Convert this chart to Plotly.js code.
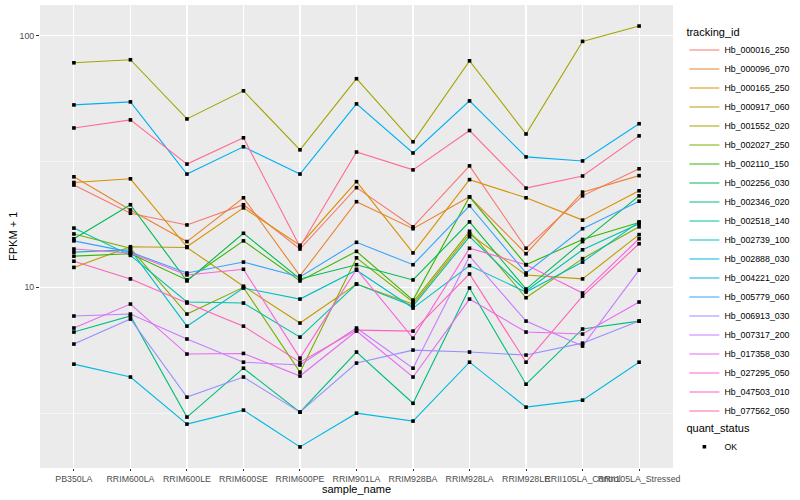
<!DOCTYPE html>
<html>
<head>
<meta charset="utf-8">
<script src="https://cdn.plot.ly/plotly-3.0.1.min.js"></script>
<style>html,body{margin:0;padding:0;background:#fff;}#chart{width:800px;height:500px;}</style>
</head>
<body>
<div id="chart"></div>
<script>
const categories = ['PB350LA','RRIM600LA','RRIM600LE','RRIM600SE','RRIM600PE','RRIM901LA','RRIM928BA','RRIM928LA','RRIM928LE','RRII105LA_Control','RRII105LA_Stressed'];

const hb_000016_250 = [25.5, 19.7, 17.7, 21.3, 14.2, 24.9, 17.4, 30.4, 14.3, 23.1, 29.6];
const hb_000096_070 = [27.5, 20.3, 15.2, 22.7, 11.1, 21.9, 17.1, 22.9, 13.6, 23.9, 27.8];
const hb_000165_250 = [26.1, 27.0, 14.5, 20.7, 14.7, 26.3, 13.7, 26.8, 22.7, 18.5, 24.2];
const hb_000917_060 = [12.0, 14.5, 14.4, 10.1, 7.21, 10.3, 8.58, 16.3, 11.2, 10.8, 16.2];
const hb_001552_020 = [78.1, 80.3, 46.7, 60.4, 35.2, 67.5, 37.9, 79.5, 40.7, 95.0, 109.3];
const hb_002027_250 = [16.3, 14.3, 7.83, 10.0, 4.60, 13.1, 8.74, 16.7, 9.09, 13.0, 17.4];
const hb_002110_150 = [13.3, 13.6, 10.7, 15.3, 10.6, 13.9, 8.90, 22.9, 12.3, 15.5, 18.1];
const hb_002256_030 = [15.6, 21.3, 10.6, 16.4, 10.8, 12.3, 10.7, 18.2, 9.84, 15.2, 23.1];
const hb_002346_020 = [6.64, 7.69, 3.05, 4.77, 3.19, 5.53, 3.46, 9.94, 4.12, 6.83, 7.34];
const hb_002518_140 = [17.2, 13.4, 8.74, 8.66, 6.34, 10.3, 8.43, 15.9, 9.67, 14.1, 17.9];
const hb_002739_100 = [13.8, 14.1, 7.01, 9.94, 8.98, 11.7, 8.27, 12.2, 9.58, 12.6, 18.2];
const hb_002888_030 = [4.95, 4.40, 2.86, 3.25, 2.32, 3.16, 2.94, 5.04, 3.34, 3.56, 5.04];
const hb_004221_020 = [53.1, 54.6, 28.2, 36.2, 28.2, 53.6, 34.2, 55.1, 33.0, 31.8, 44.7];
const hb_005779_060 = [15.3, 13.8, 11.4, 12.6, 11.0, 15.1, 12.3, 21.1, 11.4, 17.1, 22.0];
const hb_006913_030 = [5.95, 7.48, 3.66, 4.40, 3.19, 5.00, 5.63, 5.53, 5.38, 6.00, 7.34];
const hb_007317_200 = [7.69, 7.83, 6.23, 5.04, 4.91, 6.89, 4.77, 13.3, 7.34, 5.84, 11.7];
const hb_017358_030 = [6.89, 8.58, 5.43, 5.46, 4.44, 6.70, 4.40, 8.98, 6.64, 6.52, 8.74];
const hb_027295_050 = [14.2, 13.7, 11.2, 11.8, 5.23, 11.8, 6.28, 14.3, 12.3, 9.49, 15.6];
const hb_047503_010 = [12.7, 10.8, 8.66, 7.01, 5.04, 6.76, 6.70, 11.3, 5.04, 9.23, 14.9];
const hb_077562_050 = [43.0, 46.3, 30.9, 39.3, 14.5, 34.5, 29.3, 42.0, 24.8, 27.7, 40.0];

const seriesNames = ['Hb_000016_250','Hb_000096_070','Hb_000165_250','Hb_000917_060','Hb_001552_020','Hb_002027_250','Hb_002110_150','Hb_002256_030','Hb_002346_020','Hb_002518_140','Hb_002739_100','Hb_002888_030','Hb_004221_020','Hb_005779_060','Hb_006913_030','Hb_007317_200','Hb_017358_030','Hb_027295_050','Hb_047503_010','Hb_077562_050'];
const seriesValues = [hb_000016_250, hb_000096_070, hb_000165_250, hb_000917_060, hb_001552_020, hb_002027_250, hb_002110_150, hb_002256_030, hb_002346_020, hb_002518_140, hb_002739_100, hb_002888_030, hb_004221_020, hb_005779_060, hb_006913_030, hb_007317_200, hb_017358_030, hb_027295_050, hb_047503_010, hb_077562_050];
const statusLabels = ['OK'];

const seriesColors = ['#F8766D','#EA8331','#D89000','#C09B00','#A3A500','#7CAE00','#39B600','#00BB4E','#00BF7D','#00C1A3','#00BFC4','#00BAE0','#00B0F6','#35A2FF','#9590FF','#C77CFF','#E76BF3','#FA62DB','#FF62BC','#FF6C91'];

const FONT = 'Liberation Sans, Arial, Helvetica, sans-serif';

const traces = seriesNames.map((name, i) => ({
  type: 'scatter', mode: 'lines', name: name,
  x: categories, y: seriesValues[i],
  line: {color: seriesColors[i], width: 1.1},
  legend: 'legend', showlegend: true, hoverinfo: 'skip'
}));

const px = [], py = [];
seriesValues.forEach(v => { v.forEach((val, j) => { px.push(categories[j]); py.push(val); }); });
traces.push({
  type: 'scatter', mode: 'markers', name: statusLabels[0],
  x: px, y: py,
  marker: {color: '#000', size: 3.6, symbol: 'square'},
  legend: 'legend2', showlegend: true, hoverinfo: 'skip'
});

const layout = {
  width: 800, height: 500,
  margin: {l: 40, r: 116, t: 5, b: 32},
  paper_bgcolor: '#fff', plot_bgcolor: '#EBEBEB',
  font: {family: FONT, size: 9, color: '#000'},
  showlegend: true,
  xaxis: {
    type: 'category', categoryorder: 'array', categoryarray: categories,
    range: [-0.6, 10.6], tickangle: 0,
    showgrid: true, gridcolor: '#fff', gridwidth: 1.1,
    zeroline: false, showline: false,
    ticks: 'outside', ticklen: 2, tickcolor: '#333', tickwidth: 1,
    tickfont: {family: FONT, size: 8.8, color: '#4D4D4D'}
  },
  yaxis: {
    type: 'log', range: [0.2818, 2.1223],
    tickvals: [10, 100], ticktext: ['10', '100'],
    showgrid: true, gridcolor: '#fff', gridwidth: 1.1,
    minor: {tickvals: [Math.sqrt(10), Math.sqrt(1000)], showgrid: true, gridcolor: '#fff', gridwidth: 0.55, ticklen: 0},
    zeroline: false, showline: false,
    ticks: 'outside', ticklen: 3, tickcolor: '#333', tickwidth: 1,
    tickfont: {family: FONT, size: 8.8, color: '#4D4D4D'}
  },
  annotations: [
    {text: 'sample_name', xref: 'paper', yref: 'paper', x: 0.5, y: -0.046, xanchor: 'center', yanchor: 'middle',
     showarrow: false, font: {family: FONT, size: 11, color: '#000'}},
    {text: 'FPKM + 1', xref: 'paper', yref: 'paper', x: -0.0435, y: 0.5, xanchor: 'center', yanchor: 'middle',
     textangle: -90, showarrow: false, font: {family: FONT, size: 11, color: '#000'}}
  ],
  legend: {
    title: {text: 'tracking_id', font: {family: FONT, size: 11, color: '#000'}},
    x: 1.018, xanchor: 'left', y: 0.965, yanchor: 'top',
    font: {family: FONT, size: 8.8, color: '#000'},
    bgcolor: 'rgba(0,0,0,0)', itemwidth: 30, tracegroupgap: 0
  },
  legend2: {
    title: {text: 'quant_status', font: {family: FONT, size: 11, color: '#000'}},
    x: 1.018, xanchor: 'left', y: 0.108, yanchor: 'top',
    font: {family: FONT, size: 8.8, color: '#000'},
    bgcolor: 'rgba(0,0,0,0)', itemwidth: 30
  },
  hovermode: false
};

Plotly.newPlot('chart', traces, layout, {displayModeBar: false, staticPlot: true});
</script>
</body>
</html>
